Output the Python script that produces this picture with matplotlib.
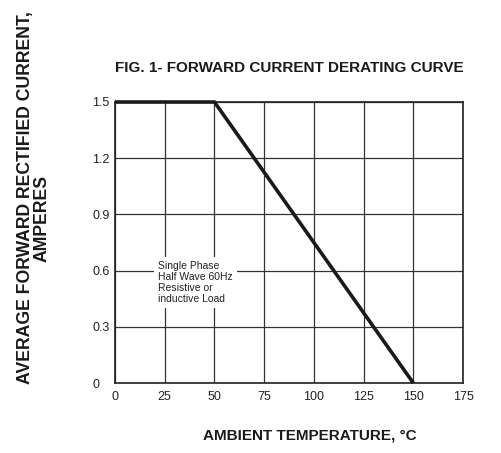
import matplotlib

matplotlib.use("Agg")
import matplotlib.pyplot as plt

# derating curve
temp = [0, 50, 150]
current = [1.5, 1.5, 0.0]

x_ticks = [0, 25, 50, 75, 100, 125, 150, 175]
y_ticks = [0, 0.3, 0.6, 0.9, 1.2, 1.5]
y_tick_labels = ["0", "0.3", "0.6", "0.9", "1.2", "1.5"]

note = "Single Phase\nHalf Wave 60Hz\nResistive or\ninductive Load"

plt.rcParams["font.family"] = ["Liberation Sans", "DejaVu Sans"]

fig = plt.figure(figsize=(5.01, 4.53), dpi=100)
ax = fig.add_axes([115 / 501, 1 - 383 / 453, 348 / 501, 281 / 453])

ax.set_xlim(0, 175)
ax.set_ylim(0, 1.5)
ax.set_xticks(x_ticks)
ax.set_yticks(y_ticks)
ax.set_yticklabels(y_tick_labels)
ax.grid(True, color="#333333", linewidth=0.9)
ax.set_axisbelow(True)
ax.tick_params(length=0, labelsize=9, colors="#222222")
ax.tick_params(axis="x", pad=6)
for lab in ax.get_yticklabels():
    lab.set_horizontalalignment("left")
ax.tick_params(axis="y", pad=16.5)
for s in ax.spines.values():
    s.set_linewidth(1.2)
    s.set_color("#222222")

ax.plot(temp, current, color="#1a1a1a", linewidth=2.6, clip_on=False,
        solid_capstyle="butt", zorder=5)

ax.text(21.5, 0.65, note, fontsize=7.5, va="top", ha="left", linespacing=1.12,
        color="#222222", zorder=4,
        bbox=dict(facecolor="white", edgecolor="none", pad=3))

fig.text(289 / 501, 1 - 68 / 453, "FIG. 1- FORWARD CURRENT DERATING CURVE",
         fontsize=11, fontweight="bold", ha="center", va="center", color="#1a1a1a")
fig.text(310 / 501, 1 - 435 / 453, "AMBIENT TEMPERATURE, °C",
         fontsize=11, fontweight="bold", ha="center", va="center", color="#1a1a1a")
fig.text(25.5 / 501, 1 - 198 / 453, "AVERAGE FORWARD RECTIFIED CURRENT,",
         fontsize=12.7, fontweight="bold", rotation=90, ha="center", va="center",
         color="#1a1a1a")
fig.text(42 / 501, 1 - 218 / 453, "AMPERES",
         fontsize=12.7, fontweight="bold", rotation=90, ha="center", va="center",
         color="#1a1a1a")

fig.savefig("out.png", dpi=100)
plt.close(fig)
